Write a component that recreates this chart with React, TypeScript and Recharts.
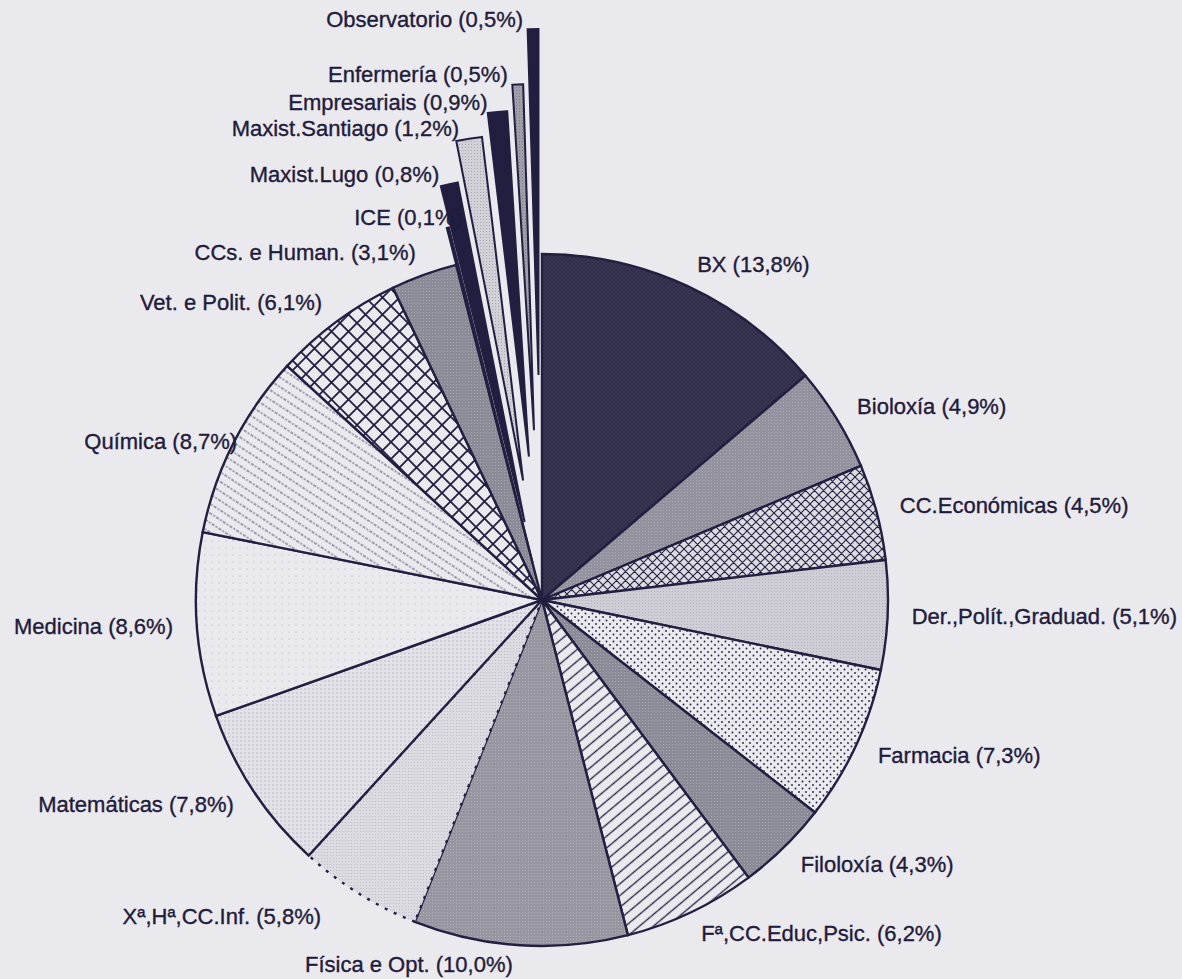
import React from 'react';
import { PieChart, Pie, Cell } from 'recharts';

// shares in %, clockwise from 12 o'clock
const categories = [
  'BX', 'Bioloxía', 'CC.Económicas', 'Der.,Polít.,Graduad.', 'Farmacia', 'Filoloxía',
  'Fª,CC.Educ,Psic.', 'Física e Opt.', 'Xª,Hª,CC.Inf.', 'Matemáticas', 'Medicina', 'Química',
  'Vet. e Polit.', 'CCs. e Human.', 'ICE', 'Maxist.Lugo', 'Maxist.Santiago', 'Empresariais',
  'Enfermería', 'Observatorio',
];
const shares = [13.8, 4.9, 4.5, 5.1, 7.3, 4.3, 6.2, 10.0, 5.8, 7.8, 8.6, 8.7, 6.1, 3.1, 0.1, 0.8, 1.2, 0.9, 0.5, 0.5];
const fills = [
  'url(#pBX)', 'url(#pGrayLt)', 'url(#pDiamond)', 'url(#pDer)', 'url(#pDots)', 'url(#pGray)',
  'url(#pSlash)', 'url(#pGrayFis)', 'url(#pXa)', 'url(#pMat)', 'url(#pMed)', 'url(#pQuim)',
  'url(#pGrid)', 'url(#pGray)', '#221e40', '#221e40', 'url(#pSant)', '#221e40',
  'url(#pEnf)', '#221e40',
];

// how far the small slices are pulled out of the pie (px)
const EXPLODE: Record<string, number> = {
  ICE: 38,
  'Maxist.Lugo': 80,
  'Maxist.Santiago': 121,
  Empresariais: 144,
  'Enfermería': 170,
  Observatorio: 225,
};
const LABEL_SHIFT: Record<string, [number, number]> = {
  'Xª,Hª,CC.Inf.': [-25, 3],
  'Química': [25, 9],
  'Física e Opt.': [-6, -5],
  ICE: [24, 0],
};

const INK = '#231f40';
const PAPER = '#eae9ee';
const CX = 542;
const CY = 600;
const R = 346;
const LABEL_GAP = 24;
const RAD = Math.PI / 180;

const data = categories.map((name, i) => ({ name, value: shares[i] }));
const total = shares.reduce((a, b) => a + b, 0);
const before = shares.map((_, i) => shares.slice(0, i).reduce((a, b) => a + b, 0));
const midAngleOf = (i: number) => 90 - ((before[i] + shares[i] / 2) / total) * 360;

const polar = (cx: number, cy: number, r: number, angle: number) => ({
  x: cx + r * Math.cos(-angle * RAD),
  y: cy + r * Math.sin(-angle * RAD),
});

const fmt = (v: number) => v.toFixed(1).replace('.', ',');

const textStyle = {
  fontFamily: '"Liberation Sans", Arial, sans-serif',
  fontSize: 22,
  fill: '#1f1b3a',
  stroke: '#1f1b3a',
  strokeWidth: 0.35,
};

const makeLabel = (only: number | null) => (props: any) => {
  const { cx, cy, midAngle, outerRadius, index } = props;
  const name = categories[index];
  if (only === null ? name in EXPLODE : index !== only) return null;
  const text = `${name} (${fmt(shares[index])}%)`;
  const [dx, dy] = LABEL_SHIFT[name] ?? [0, 0];
  if (only !== null) {
    const tip = polar(cx, cy, outerRadius, midAngle);
    return (
      <text x={tip.x - 10 + dx} y={tip.y - 10 + dy} textAnchor="end" dominantBaseline="central" {...textStyle}>
        {text}
      </text>
    );
  }
  const p = polar(cx, cy, outerRadius + LABEL_GAP, midAngle);
  return (
    <text
      x={p.x + dx}
      y={p.y + dy}
      textAnchor={p.x >= cx ? 'start' : 'end'}
      dominantBaseline="central"
      {...textStyle}
    >
      {text}
    </text>
  );
};

const Patterns = () => (
  <defs>
    <pattern id="pBX" width="4" height="4" patternUnits="userSpaceOnUse">
      <rect width="4" height="4" fill="#2d2947" />
      <path d="M0 0L4 4M4 0L0 4" stroke="#48445f" strokeWidth="0.6" />
    </pattern>
    <pattern id="pGray" width="3" height="3" patternUnits="userSpaceOnUse">
      <rect width="3" height="3" fill="#8b8a97" />
      <rect width="1" height="1" fill="#a9a8b3" />
    </pattern>
    <pattern id="pGrayLt" width="3" height="3" patternUnits="userSpaceOnUse">
      <rect width="3" height="3" fill="#92919d" />
      <rect width="1" height="1" fill="#b0afb9" />
    </pattern>
    <pattern id="pGrayFis" width="3" height="3" patternUnits="userSpaceOnUse">
      <rect width="3" height="3" fill="#9695a0" />
      <rect width="1" height="1" fill="#b3b2bb" />
    </pattern>
    <pattern id="pDiamond" width="9" height="9" patternUnits="userSpaceOnUse">
      <rect width="9" height="9" fill="#dddce2" />
      <path d="M0 0L9 9M9 0L0 9M-1 1L1 -1M8 10L10 8M-1 8L1 10M8 -1L10 1" stroke={INK} strokeWidth="1.1" />
    </pattern>
    <pattern id="pGrid" width="17" height="17" patternUnits="userSpaceOnUse">
      <rect width="17" height="17" fill={PAPER} />
      <path d="M0 0L17 17M17 0L0 17" stroke={INK} strokeWidth="1.8" />
    </pattern>
    <pattern id="pDer" width="3" height="3" patternUnits="userSpaceOnUse">
      <rect width="3" height="3" fill="#cfced6" />
      <rect width="1" height="1" fill="#b1b0bb" />
    </pattern>
    <pattern id="pDots" width="7" height="7" patternUnits="userSpaceOnUse">
      <rect width="7" height="7" fill={PAPER} />
      <circle cx="1" cy="1" r="0.9" fill={INK} />
      <circle cx="4.5" cy="4.5" r="0.9" fill={INK} />
    </pattern>
    <pattern id="pSlash" width="9" height="9" patternUnits="userSpaceOnUse" patternTransform="rotate(-40)">
      <rect width="9" height="9" fill={PAPER} />
      <path d="M0 4.5H9" stroke={INK} strokeWidth="1.3" />
    </pattern>
    <pattern id="pQuim" width="8" height="8" patternUnits="userSpaceOnUse" patternTransform="rotate(33)">
      <rect width="8" height="8" fill={PAPER} />
      <path d="M0 4H8" stroke="#4c4966" strokeWidth="1" strokeDasharray="2 1.5" />
    </pattern>
    <pattern id="pXa" width="3" height="3" patternUnits="userSpaceOnUse">
      <rect width="3" height="3" fill="#dcdbe1" />
      <rect width="1" height="1" fill="#bdbcc6" />
    </pattern>
    <pattern id="pMat" width="4" height="4" patternUnits="userSpaceOnUse">
      <rect width="4" height="4" fill="#e3e2e8" />
      <circle cx="1" cy="1" r="0.6" fill="#8c8b9a" />
    </pattern>
    <pattern id="pMed" width="7" height="7" patternUnits="userSpaceOnUse">
      <rect width="7" height="7" fill={PAPER} />
      <circle cx="2" cy="2" r="0.5" fill="#9d9cab" />
    </pattern>
    <pattern id="pSant" width="3" height="3" patternUnits="userSpaceOnUse">
      <rect width="3" height="3" fill="#d2d1d8" />
      <rect width="1" height="1" fill="#a6a5b0" />
    </pattern>
    <pattern id="pEnf" width="3" height="3" patternUnits="userSpaceOnUse">
      <rect width="3" height="3" fill="#a09fa9" />
      <rect width="1" height="1" fill="#7f7e8b" />
    </pattern>
  </defs>
);

const explodedIdx = categories.map((n, i) => (n in EXPLODE ? i : -1)).filter((i) => i >= 0);

export default function App() {
  return (
    <div style={{ position: 'absolute', left: 0, top: 0, width: 1182, height: 979, background: PAPER }}>
      <PieChart width={1182} height={979} margin={{ top: 0, right: 0, bottom: 0, left: 0 }}>
        <Patterns />
        <Pie
          data={data}
          dataKey="value"
          nameKey="name"
          cx={CX}
          cy={CY}
          outerRadius={R}
          startAngle={90}
          endAngle={-270}
          label={makeLabel(null)}
          labelLine={false}
          isAnimationActive={false}
        >
          {data.map((d, i) =>
            d.name in EXPLODE ? (
              <Cell key={d.name} fill="none" stroke="none" />
            ) : (
              <Cell
                key={d.name}
                fill={fills[i]}
                stroke={INK}
                strokeWidth={2.4}
                strokeDasharray={d.name === 'Xª,Hª,CC.Inf.' ? '3 7' : undefined}
              />
            ),
          )}
        </Pie>
        {explodedIdx.map((k) => {
          const off = polar(0, 0, EXPLODE[categories[k]], midAngleOf(k));
          return (
            <Pie
              key={categories[k]}
              data={data}
              dataKey="value"
              nameKey="name"
              cx={CX + off.x}
              cy={CY + off.y}
              outerRadius={R}
              startAngle={90}
              endAngle={-270}
              label={makeLabel(k)}
              labelLine={false}
              isAnimationActive={false}
            >
              {data.map((d, i) =>
                i === k ? (
                  <Cell key={d.name} fill={fills[i]} stroke={INK} strokeWidth={2} />
                ) : (
                  <Cell key={d.name} fill="none" stroke="none" />
                ),
              )}
            </Pie>
          );
        })}
      </PieChart>
    </div>
  );
}
